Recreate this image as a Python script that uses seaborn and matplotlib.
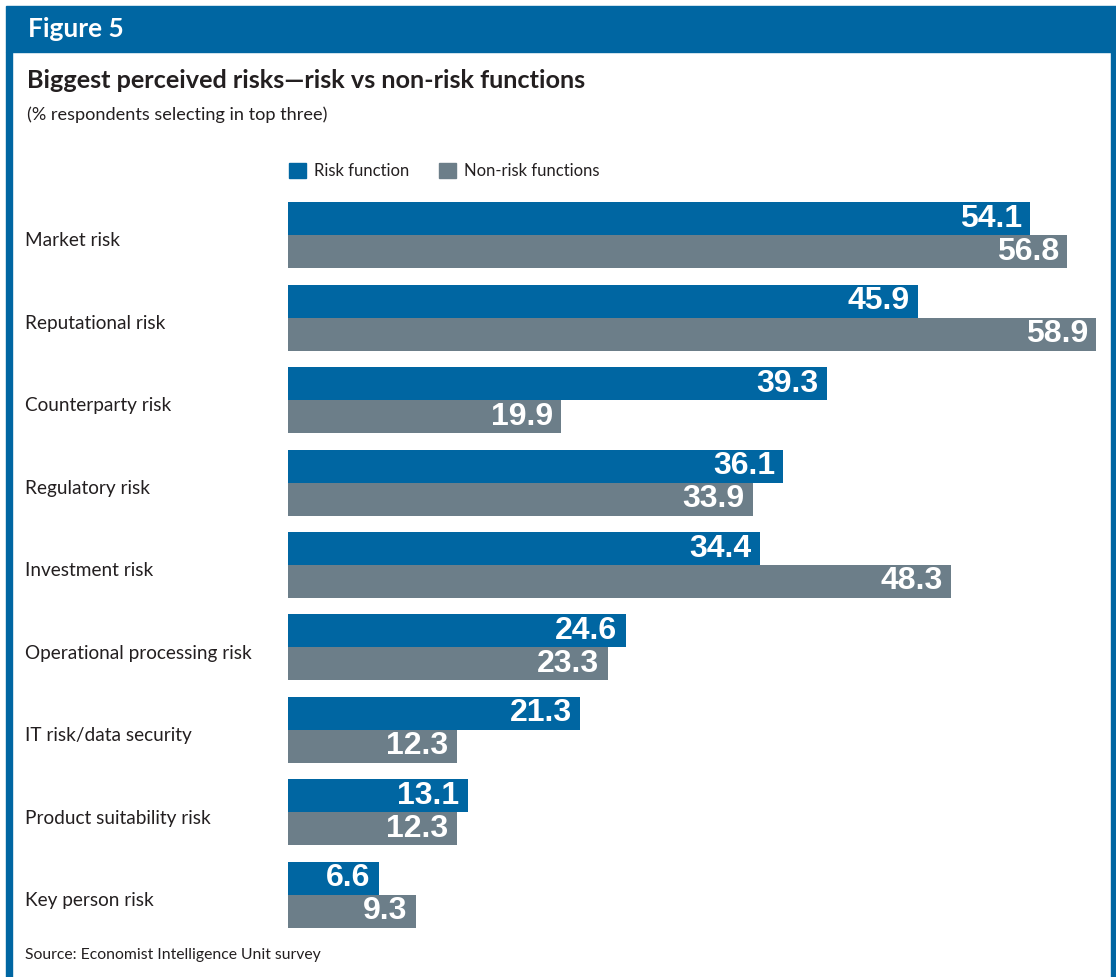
import matplotlib
matplotlib.use("Agg")
import matplotlib.pyplot as plt
from matplotlib.patches import Rectangle
import matplotlib.transforms as mtransforms
import pandas as pd
import seaborn as sns

# Survey results (% respondents selecting in top three)
categories = [
    "Market risk",
    "Reputational risk",
    "Counterparty risk",
    "Regulatory risk",
    "Investment risk",
    "Operational processing risk",
    "IT risk/data security",
    "Product suitability risk",
    "Key person risk",
]
risk_function = [54.1, 45.9, 39.3, 36.1, 34.4, 24.6, 21.3, 13.1, 6.6]
non_risk_functions = [56.8, 58.9, 19.9, 33.9, 48.3, 23.3, 12.3, 12.3, 9.3]
series_names = ["Risk function", "Non-risk functions"]

BLUE = "#0066A2"
GREY = "#6C7E89"
TEXT = "#231F20"

df = pd.DataFrame({
    "category": categories * 2,
    "value": risk_function + non_risk_functions,
    "series": [series_names[0]] * len(categories) + [series_names[1]] * len(categories),
})

sns.set_theme(style="white")
plt.rcParams["font.family"] = ["Lato", "DejaVu Sans"]

W, H = 1116, 977
fig = plt.figure(figsize=(W / 100, H / 100), dpi=100)
fig.patch.set_facecolor("white")


def fx(px):
    return px / W


def fy(py):
    return 1 - py / H


# Header band and frame
fig.patches.append(Rectangle((fx(6), fy(52)), fx(W - 6), (52 - 6) / H,
                             transform=fig.transFigure, color=BLUE, zorder=0))
fig.patches.append(Rectangle((fx(6), 0), fx(6), fy(52),
                             transform=fig.transFigure, color=BLUE, zorder=0))
fig.patches.append(Rectangle((fx(1111), 0), fx(5), fy(52),
                             transform=fig.transFigure, color=BLUE, zorder=0))

fig.text(fx(28), fy(29), "Figure 5", color="white", fontsize=19,
         fontweight="bold", va="center", ha="left")
fig.text(fx(27), fy(80), "Biggest perceived risks\u2014risk vs non-risk functions",
         color=TEXT, fontsize=18.2, fontweight="bold", va="center", ha="left")
fig.text(fx(27), fy(115), "(% respondents selecting in top three)",
         color=TEXT, fontsize=13.1, va="center", ha="left")
fig.text(fx(25), fy(955), "Source: Economist Intelligence Unit survey",
         color=TEXT, fontsize=11.3, va="center", ha="left")

# Plot area: zero line at x=288 px, 13.72 px per percentage point
ax_left, ax_right = 288, 1100
ax_top, ax_bottom = 194, 936
ax = fig.add_axes([fx(ax_left), fy(ax_bottom), fx(ax_right - ax_left),
                   (ax_bottom - ax_top) / H])

sns.barplot(data=df, y="category", x="value", hue="series", orient="h",
            palette=[BLUE, GREY], width=0.8, dodge=True, saturation=1,
            order=categories, hue_order=series_names, ax=ax, legend=False,
            linewidth=0, edgecolor="none")

ax.set_xlim(0, (ax_right - ax_left) / 13.72)
ax.set_ylim(len(categories) - 0.5, -0.5)
ax.set_xlabel("")
ax.set_ylabel("")
ax.set_xticks([])
ax.set_yticks([])
for s in ax.spines.values():
    s.set_visible(False)
ax.patch.set_alpha(0)

# Value labels inside the bar ends
for container in ax.containers:
    for bar in container:
        w = bar.get_width()
        yc = bar.get_y() + bar.get_height() / 2
        ax.annotate(f"{w:.1f}", xy=(w, yc), xytext=(-6, 0),
                    textcoords="offset points", ha="right", va="center",
                    color="white", fontsize=23, fontweight="heavy",
                    family=["Liberation Sans", "DejaVu Sans"])

# Category labels, left aligned in the margin
trans = mtransforms.blended_transform_factory(fig.transFigure, ax.transData)
for i, cat in enumerate(categories):
    ax.text(fx(25), i + 0.07, cat, transform=trans, ha="left", va="center",
            fontsize=13.7, color=TEXT)

# Legend
handles = [Rectangle((0, 0), 1, 1, color=c) for c in (BLUE, GREY)]
fig.legend(handles, series_names, loc="center left",
           bbox_to_anchor=(fx(274), fy(171)), ncol=2, frameon=False,
           fontsize=12, handlelength=1.0, handleheight=1.0,
           handletextpad=0.5, columnspacing=1.8, labelcolor=TEXT)

fig.savefig("out.png", dpi=100)
